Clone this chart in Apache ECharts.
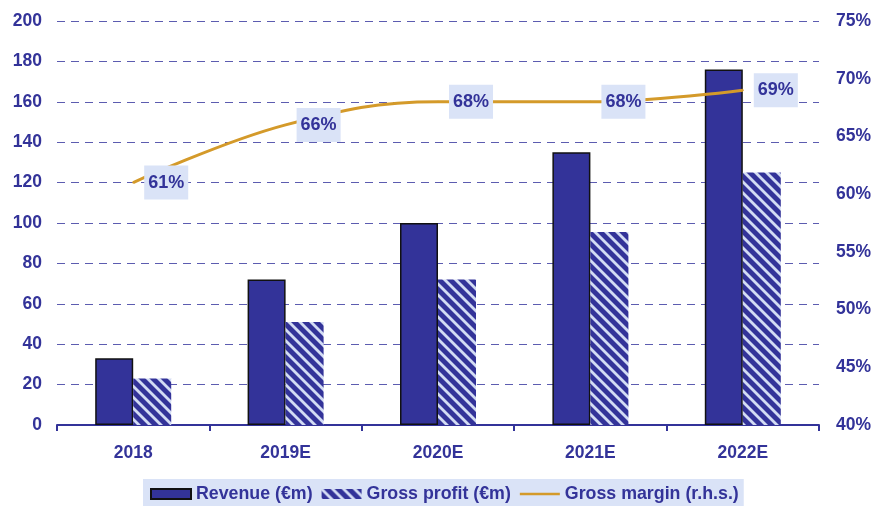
<!DOCTYPE html>
<html><head><meta charset="utf-8">
<script src="https://cdn.jsdelivr.net/npm/echarts@6/dist/echarts.min.js"></script>
<style>html,body{margin:0;padding:0;background:#fff}#c{width:875px;height:506px}</style>
</head><body><div id="c"></div>
<script>
const categories = ['2018', '2019E', '2020E', '2021E', '2022E'];
const revenue = [33, 72, 100, 135, 176];
const grossProfit = [23, 51, 72, 95.5, 125];
const grossMargin = [61, 66, 68, 68, 69];

const NAVY = '#333399';
const LIGHT = '#dae3f7';
const GOLD = '#d49a2a';
const FONT = '"Liberation Sans", Arial, sans-serif';

function hatch() {
  const s = 11;
  const cv = document.createElement('canvas');
  cv.width = s; cv.height = s;
  const ctx = cv.getContext('2d');
  ctx.fillStyle = NAVY; ctx.fillRect(0, 0, s, s);
  ctx.strokeStyle = '#d3dcf4'; ctx.lineWidth = 2.8;
  for (let k = -1; k <= 1; k++) {
    ctx.beginPath();
    ctx.moveTo(-2, -2 + k * s);
    ctx.lineTo(s + 2, s + 2 + k * s);
    ctx.stroke();
  }
  return { image: cv, repeat: 'repeat' };
}

const chart = echarts.init(document.getElementById('c'));
chart.setOption({
  animation: false,
  textStyle: { fontFamily: FONT },
  grid: { left: 57, right: 56, top: 21, bottom: 81 },
  legend: {
    top: 479, left: 143,
    backgroundColor: LIGHT,
    padding: [6, 5, 10, 7],
    itemWidth: 40, itemHeight: 10, itemGap: 9,
    textStyle: { color: NAVY, fontWeight: 'bold', fontSize: 17.8, fontFamily: FONT },
    data: [
      { name: 'Revenue (€m)', icon: 'rect' },
      { name: 'Gross profit (€m)', icon: 'rect' },
      { name: 'Gross margin (r.h.s.)', icon: 'path://M0,4L40,4L40,6.5L0,6.5Z' }
    ]
  },
  xAxis: {
    type: 'category', data: categories,
    axisLine: { show: true, lineStyle: { color: NAVY, width: 2 } },
    axisTick: { show: true, length: 6, lineStyle: { color: NAVY, width: 2 } },
    axisLabel: { color: NAVY, fontWeight: 'bold', fontSize: 17.5, margin: 19, fontFamily: FONT }
  },
  yAxis: [
    {
      type: 'value', min: 0, max: 200, interval: 20,
      axisLine: { show: false }, axisTick: { show: false },
      axisLabel: { color: NAVY, fontWeight: 'bold', fontSize: 17.5, margin: 15, fontFamily: FONT },
      splitLine: { lineStyle: { color: '#5c5cb0', type: [8, 6], width: 1 } }
    },
    {
      type: 'value', min: 40, max: 75, interval: 5,
      axisLine: { show: false }, axisTick: { show: false },
      axisLabel: { color: NAVY, fontWeight: 'bold', fontSize: 17.5, margin: 17, formatter: '{value}%', fontFamily: FONT },
      splitLine: { show: false }
    }
  ],
  series: [
    {
      name: 'Revenue (€m)', type: 'bar', data: revenue, barWidth: 38, barGap: '0%',
      itemStyle: { color: NAVY, borderColor: '#111', borderWidth: 1.5 }
    },
    {
      name: 'Gross profit (€m)', type: 'bar', data: grossProfit, barWidth: 38, barGap: '0%',
      itemStyle: { color: hatch() }
    },
    {
      name: 'Gross margin (r.h.s.)', type: 'line', yAxisIndex: 1, data: grossMargin,
      smooth: 0.4, symbol: 'circle', symbolSize: 2, showSymbol: true, z: 5,
      lineStyle: { color: GOLD, width: 3 },
      itemStyle: { color: GOLD },
      labelLayout: { hideOverlap: false },
      label: {
        show: true, position: 'right', distance: 10,
        formatter: '{c}%', color: NAVY, fontWeight: 'bold', fontSize: 18, fontFamily: FONT,
        backgroundColor: LIGHT, padding: [8, 4, 8, 4]
      }
    }
  ]
});
</script></body></html>
